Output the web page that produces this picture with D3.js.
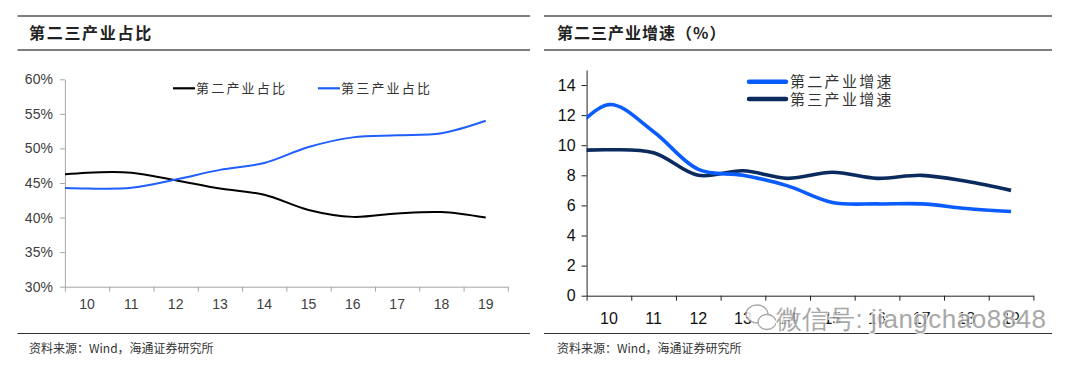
<!DOCTYPE html>
<html><head><meta charset="utf-8">
<script src="https://cdn.jsdelivr.net/npm/d3@7"></script>
<style>
body{margin:0;background:#fff;}
svg{display:block;}
</style></head>
<body>
<svg id="c" width="1080" height="368"></svg>
<script>
// ---- data ----
// "09" lies before the first band and is clipped at the axis, as in the source chart
const years = ["09","10","11","12","13","14","15","16","17","18","19"];
const tickLabels = ["10","11","12","13","14","15","16","17","18","19"];
const shareSecondary = [45.9,46.5,46.5,45.4,44.2,43.3,41.1,40.1,40.6,40.8,40.0];
const shareTertiary  = [44.4,44.2,44.3,45.5,46.9,47.9,50.2,51.6,51.9,52.2,54.0];
const growthSecondary = [10.3,12.7,10.9,8.4,8.0,7.3,6.2,6.1,6.1,5.8,5.6];
const growthTertiary  = [9.6,9.7,9.5,8.0,8.3,7.8,8.2,7.8,8.0,7.6,7.0];
const shareTicks = [30,35,40,45,50,55,60];
const growthTicks = [0,2,4,6,8,10,12,14];
const leftTitle = "第二三产业占比";
const rightTitle = "第二三产业增速（%）";
const leftNames = ["第二产业占比","第三产业占比"];
const rightNames = ["第二产业增速","第三产业增速"];
const sourceText = "资料来源：Wind，海通证券研究所";
const watermark = "微信号: jiangchao8848";

const svg = d3.select("#c");
const cjk = "'Noto Sans CJK SC', sans-serif";
const num = "'Liberation Sans', Arial, sans-serif";

function header(x1, x2, title, tx, ls){
  svg.append("line").attr("x1",x1).attr("x2",x2).attr("y1",16).attr("y2",16).attr("stroke","#555").attr("stroke-width",1.5);
  svg.append("line").attr("x1",x1).attr("x2",x2).attr("y1",50).attr("y2",50).attr("stroke","#555").attr("stroke-width",1.5);
  svg.append("text").attr("x",tx).attr("y",38.5).attr("font-family",cjk).attr("font-weight","bold")
    .attr("font-size",16).attr("letter-spacing",ls).attr("fill","#222").text(title);
}
function footer(x1, x2, tx){
  svg.append("line").attr("x1",x1).attr("x2",x2).attr("y1",333.5).attr("y2",333.5).attr("stroke","#333").attr("stroke-width",1.2);
  svg.append("text").attr("x",tx).attr("y",353).attr("font-family",cjk).attr("font-size",12).attr("fill","#333").text(sourceText);
}

header(17.5,530,leftTitle,29,1.7);
header(544,1052,rightTitle,557,1);
footer(17.5,530,29);
footer(544,1052,557);

// ---------------- LEFT CHART ----------------
{
  const x0 = 64.9, x1 = 507.9;
  const x = d3.scaleLinear().domain([-0.5,9.5]).range([x0,x1]);
  const y = d3.scaleLinear().domain([30,60]).range([286.7,79.3]);
  const g = svg.append("g");
  const axisCol = "#a6a6a6";
  const ya = g.append("g").attr("transform",`translate(${x0},0)`)
    .call(d3.axisLeft(y).tickValues(shareTicks).tickSize(5).tickSizeOuter(0).tickFormat(d=>d+"%"));
  ya.select(".domain").attr("stroke",axisCol);
  ya.selectAll(".tick line").attr("stroke",axisCol);
  ya.selectAll("text").attr("font-family",num).attr("font-size",14).attr("fill","#404040").attr("dx",-4);
  const xa = g.append("g").attr("transform","translate(0,286.7)")
    .call(d3.axisBottom(x).tickValues(d3.range(-0.5,10,1)).tickSize(5).tickSizeOuter(0).tickFormat(""));
  xa.select(".domain").attr("stroke",axisCol);
  xa.selectAll(".tick line").attr("stroke",axisCol);
  g.selectAll(".xl").data(tickLabels).join("text").attr("class","xl")
    .attr("x",(d,i)=>x(i)).attr("y",309).attr("text-anchor","middle")
    .attr("font-family",num).attr("font-size",14).attr("fill","#404040").text(d=>d);
  svg.append("clipPath").attr("id","clipL").append("rect").attr("x",x0).attr("y",60).attr("width",x1-x0).attr("height",240);
  const line = d3.line().x((d,i)=>x(i-1)).y(d=>y(d)).curve(d3.curveCatmullRom.alpha(0.5));
  g.append("path").datum(shareSecondary).attr("d",line).attr("fill","none").attr("stroke","#000").attr("stroke-width",2).attr("clip-path","url(#clipL)");
  g.append("path").datum(shareTertiary).attr("d",line).attr("fill","none").attr("stroke","#1f5fff").attr("stroke-width",2).attr("clip-path","url(#clipL)");
  const lg = [[173,"#000",leftNames[0]],[318,"#1f5fff",leftNames[1]]];
  lg.forEach(([lx,c,t])=>{
    g.append("line").attr("x1",lx).attr("x2",lx+22).attr("y1",88.3).attr("y2",88.3).attr("stroke",c).attr("stroke-width",2.2);
    g.append("text").attr("x",lx+23).attr("y",93).attr("font-family",cjk).attr("font-size",13)
      .attr("letter-spacing",2.2).attr("fill","#333").text(t);
  });
}

// ---------------- RIGHT CHART ----------------
{
  const x0 = 586.6, x1 = 1033.4;
  const x = d3.scaleLinear().domain([-0.5,9.5]).range([x0,x1]);
  const y = d3.scaleLinear().domain([0,15]).range([295.7,70]);
  const g = svg.append("g");
  const ya = g.append("g").attr("transform",`translate(${x0},0)`)
    .call(d3.axisLeft(y).tickValues(growthTicks).tickSize(5).tickSizeOuter(0));
  ya.select(".domain").attr("stroke","#222");
  ya.selectAll(".tick line").attr("stroke","#222");
  ya.selectAll("text").attr("font-family",num).attr("font-size",16).attr("fill","#111").attr("dx",-3);
  const xa = g.append("g").attr("transform","translate(0,295.7)")
    .call(d3.axisBottom(x).tickValues(d3.range(-0.5,10,1)).tickSize(5).tickSizeOuter(0).tickFormat(""));
  xa.select(".domain").attr("stroke","#222");
  xa.selectAll(".tick line").attr("stroke","#222");
  g.selectAll(".xl").data(tickLabels).join("text").attr("class","xl")
    .attr("x",(d,i)=>x(i)).attr("y",324).attr("text-anchor","middle")
    .attr("font-family",num).attr("font-size",16).attr("fill","#111").text(d=>d);
  svg.append("clipPath").attr("id","clipR").append("rect").attr("x",x0).attr("y",60).attr("width",x1-x0).attr("height",240);
  const line = d3.line().x((d,i)=>x(i-1)).y(d=>y(d)).curve(d3.curveCatmullRom.alpha(0.5));
  g.append("path").datum(growthTertiary).attr("d",line).attr("fill","none").attr("stroke","#0b2a5e").attr("stroke-width",3.6).attr("clip-path","url(#clipR)");
  g.append("path").datum(growthSecondary).attr("d",line).attr("fill","none").attr("stroke","#0a5cff").attr("stroke-width",3.6).attr("clip-path","url(#clipR)");
  const lg = [[81.7,"#0a5cff",rightNames[0]],[99,"#0b2a5e",rightNames[1]]];
  lg.forEach(([ly,c,t])=>{
    g.append("line").attr("x1",749).attr("x2",786).attr("y1",ly).attr("y2",ly).attr("stroke",c).attr("stroke-width",4.5).attr("stroke-linecap","round");
    g.append("text").attr("x",790).attr("y",ly+5.5).attr("font-family",cjk).attr("font-size",15)
      .attr("letter-spacing",2.3).attr("fill","#333").text(t);
  });
  // watermark
  const wm = svg.append("g").attr("opacity",0.85);
  wm.append("ellipse").attr("cx",757).attr("cy",314).attr("rx",11).attr("ry",9).attr("fill","white").attr("stroke","#999").attr("stroke-width",1.3);
  wm.append("ellipse").attr("cx",767).attr("cy",322).attr("rx",9).attr("ry",7.5).attr("fill","white").attr("stroke","#999").attr("stroke-width",1.3);
  wm.append("text").attr("x",776).attr("y",328).attr("font-family",num).attr("font-size",26)
    .attr("textLength",270).attr("fill","#9a9a9a").attr("stroke","#fff").attr("stroke-width",2.5).attr("paint-order","stroke").text(watermark);
}
</script>
</body></html>
